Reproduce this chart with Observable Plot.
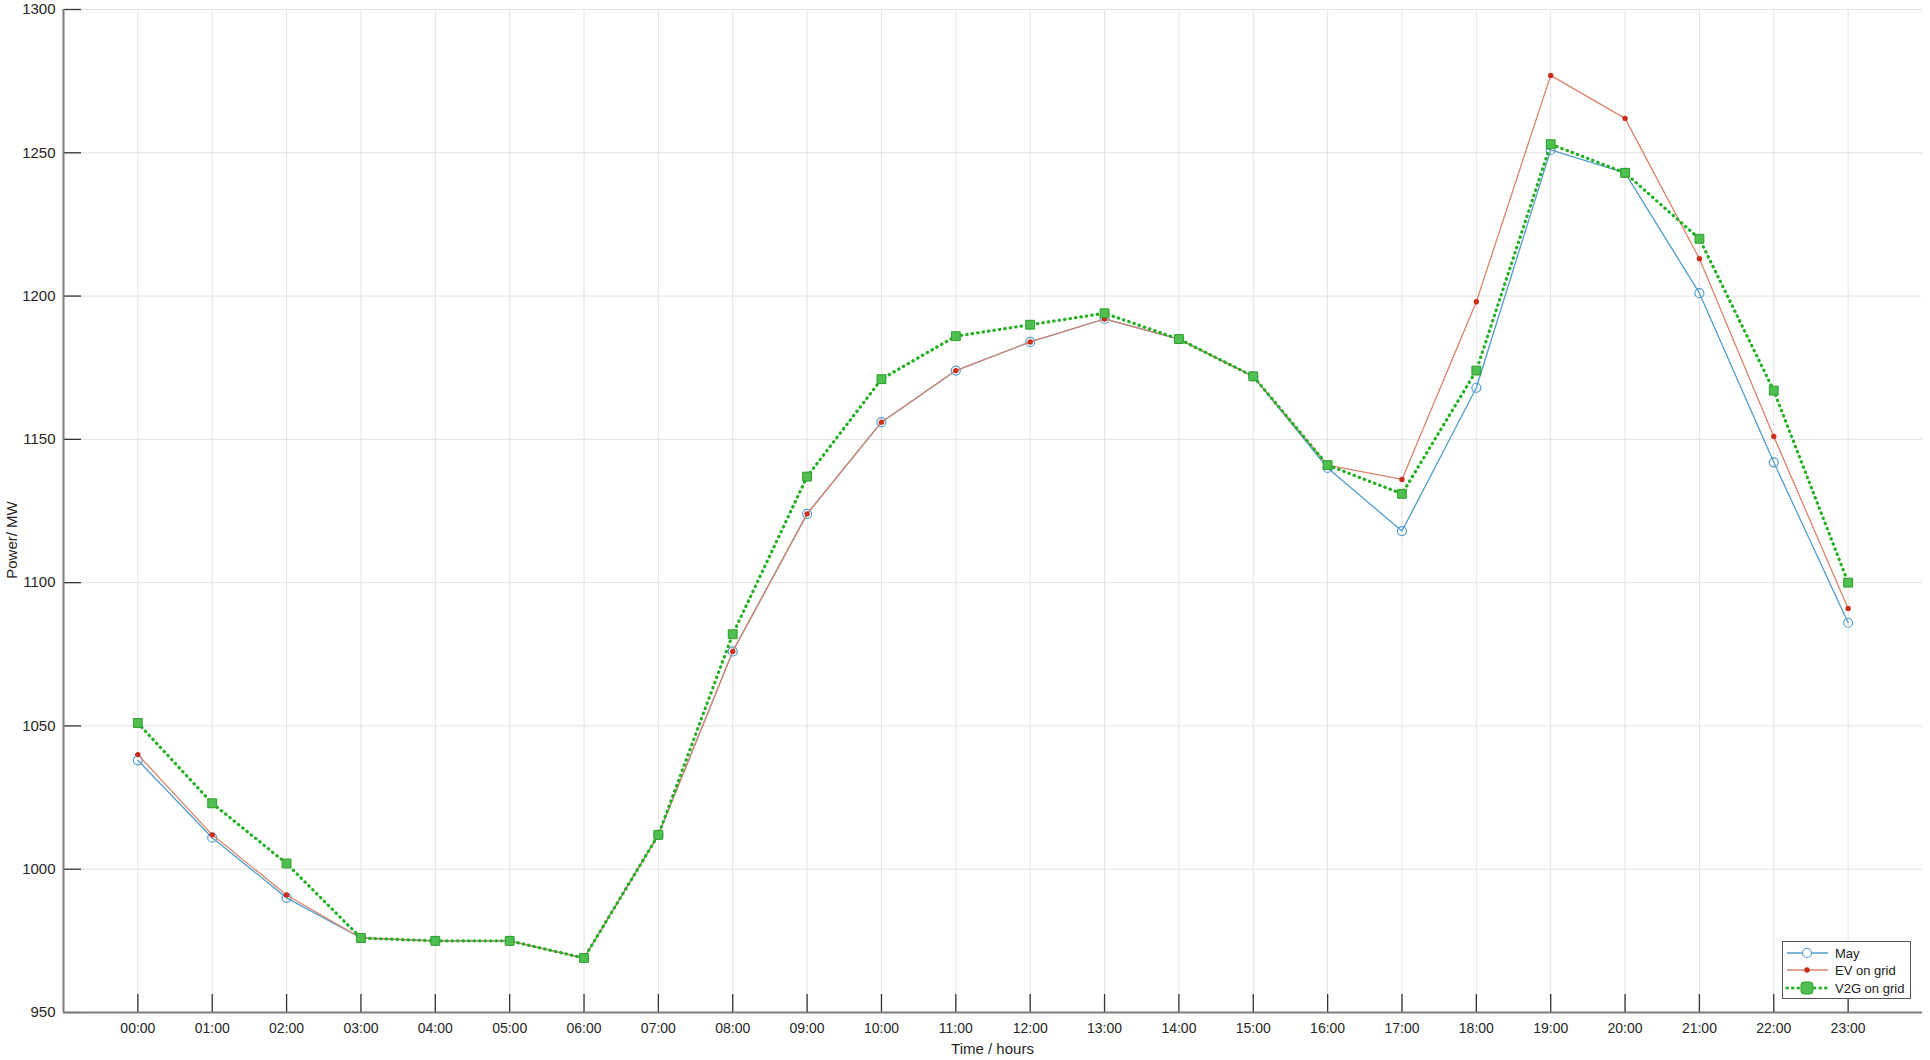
<!DOCTYPE html>
<html><head><meta charset="utf-8">
<script src="https://cdn.jsdelivr.net/npm/d3@7"></script>
<script src="https://cdn.jsdelivr.net/npm/@observablehq/plot@0.6"></script>
<style>
body{margin:0;background:#fff;}
#wrap{position:relative;width:1930px;height:1060px;font-family:"Liberation Sans",Arial,sans-serif;}
#legend{position:absolute;left:1782px;top:941px;}
</style></head><body><div id="wrap"></div>
<script>
const hours = ["00:00","01:00","02:00","03:00","04:00","05:00","06:00","07:00","08:00","09:00","10:00","11:00","12:00","13:00","14:00","15:00","16:00","17:00","18:00","19:00","20:00","21:00","22:00","23:00"];
const may       = [1038,1011,990,976,975,975,969,1012,1076,1124,1156,1174,1184,1192,1185,1172,1140,1118,1168,1251,1243,1201,1142,1086];
const evOnGrid  = [1040,1012,991,976,975,975,969,1012,1076,1124,1156,1174,1184,1192,1185,1172,1141,1136,1198,1277,1262,1213,1151,1091];
const v2gOnGrid = [1051,1023,1002,976,975,975,969,1012,1082,1137,1171,1186,1190,1194,1185,1172,1141,1131,1174,1253,1243,1220,1167,1100];
const yTicks = [950,1000,1050,1100,1150,1200,1250,1300];
const seriesNames = ["May","EV on grid","V2G on grid"];

const colors = {May:"#4f9dcb", EV:"#d9846a", EVdot:"#cc2e1c", V2G:"#25b025", V2Gfill:"#4fc04f", V2Gstroke:"#2e9e2e"};
const dots = "0.5 5";

const rows = [];
[may, evOnGrid, v2gOnGrid].forEach((arr, s) => arr.forEach((v, i) => rows.push({hour:i, series:seriesNames[s], value:v})));
const sel = name => rows.filter(d => d.series === name);

const W = 1930, H = 1060, mL = 63, mR = 8, mT = 9, mB = 48;
const plotW = W - mL - mR, plotH = H - mT - mB;
const hourIdx = hours.map((h, i) => i);

const chart = Plot.plot({
  width: W, height: H,
  marginLeft: mL, marginRight: mR, marginTop: mT, marginBottom: mB,
  x: {domain: [-1, 24]},
  y: {domain: [950, 1300]},
  style: {fontFamily: "'Liberation Sans', Arial, sans-serif", fontSize: "15px", color: "#262626", background: "#fff"},
  marks: [
    Plot.gridX(hourIdx, {stroke: "#e3e3e3", strokeOpacity: 1}),
    Plot.gridY(yTicks, {stroke: "#e3e3e3", strokeOpacity: 1}),
    Plot.ruleX(hourIdx, {x: d => d, insetTop: plotH - 18, stroke: "#333", strokeWidth: 1.3}),
    Plot.ruleY(yTicks, {y: d => d, insetRight: plotW - 18, stroke: "#333", strokeWidth: 1.3}),
    Plot.axisX({ticks: hourIdx, tickFormat: i => hours[i], tickSize: 0, tickPadding: 11, fontSize: 14, label: null}),
    Plot.axisY({ticks: yTicks, tickFormat: d => String(d), tickSize: 0, tickPadding: 8, fontSize: 15, label: null}),
    Plot.ruleX([-1], {stroke: "#7d7d7d", strokeWidth: 2}),
    Plot.ruleY([950], {stroke: "#7d7d7d", strokeWidth: 2}),
    Plot.line(sel("May"), {x: "hour", y: "value", stroke: colors.May, strokeWidth: 1.3}),
    Plot.dot(sel("May"), {x: "hour", y: "value", r: 4.5, stroke: colors.May, strokeWidth: 1.2, fill: "none"}),
    Plot.line(sel("EV on grid"), {x: "hour", y: "value", stroke: colors.EV, strokeWidth: 1.3}),
    Plot.dot(sel("EV on grid"), {x: "hour", y: "value", r: 2.7, fill: colors.EVdot}),
    Plot.line(sel("V2G on grid"), {x: "hour", y: "value", stroke: colors.V2G, strokeWidth: 3.2, strokeDasharray: dots, strokeLinecap: "round"}),
    Plot.dot(sel("V2G on grid"), {x: "hour", y: "value", symbol: "square", r: 5, fill: colors.V2Gfill, stroke: colors.V2Gstroke, strokeWidth: 1})
  ]
});

const wrap = document.getElementById("wrap");
wrap.appendChild(chart);

const svg = d3.select(chart);
svg.append("text").attr("x", mL + plotW / 2).attr("y", 1054).attr("text-anchor", "middle")
  .attr("font-size", 15).attr("fill", "#262626").text("Time / hours");
svg.append("text").attr("transform", "translate(17,540) rotate(-90)").attr("text-anchor", "middle")
  .attr("font-size", 15).attr("fill", "#262626").text("Power/ MW");

// legend
const lg = d3.select(wrap).append("svg").attr("id", "legend").attr("width", 129).attr("height", 58);
lg.append("rect").attr("x", 0.5).attr("y", 0.5).attr("width", 128).attr("height", 57).attr("fill", "#fff").attr("stroke", "#555");
const rowsY = [12, 29, 47];
lg.append("line").attr("x1", 5).attr("x2", 46).attr("y1", rowsY[0]).attr("y2", rowsY[0]).attr("stroke", colors.May).attr("stroke-width", 1.3);
lg.append("circle").attr("cx", 25).attr("cy", rowsY[0]).attr("r", 4.5).attr("fill", "#fff").attr("stroke", colors.May).attr("stroke-width", 1.2);
lg.append("line").attr("x1", 5).attr("x2", 46).attr("y1", rowsY[1]).attr("y2", rowsY[1]).attr("stroke", colors.EV).attr("stroke-width", 1.3);
lg.append("circle").attr("cx", 25).attr("cy", rowsY[1]).attr("r", 2.7).attr("fill", colors.EVdot);
lg.append("line").attr("x1", 5).attr("x2", 46).attr("y1", rowsY[2]).attr("y2", rowsY[2]).attr("stroke", colors.V2G).attr("stroke-width", 3.2).attr("stroke-dasharray", dots).attr("stroke-linecap", "round");
lg.append("rect").attr("x", 19).attr("y", rowsY[2] - 6).attr("width", 12).attr("height", 12).attr("rx", 3).attr("fill", colors.V2Gfill).attr("stroke", colors.V2Gstroke);
seriesNames.forEach((n, i) => {
  lg.append("text").attr("x", 53).attr("y", rowsY[i]).attr("dy", "0.35em").attr("font-size", 13)
    .attr("font-family", "'Liberation Sans', Arial, sans-serif").attr("fill", "#222").text(n);
});
</script></body></html>
